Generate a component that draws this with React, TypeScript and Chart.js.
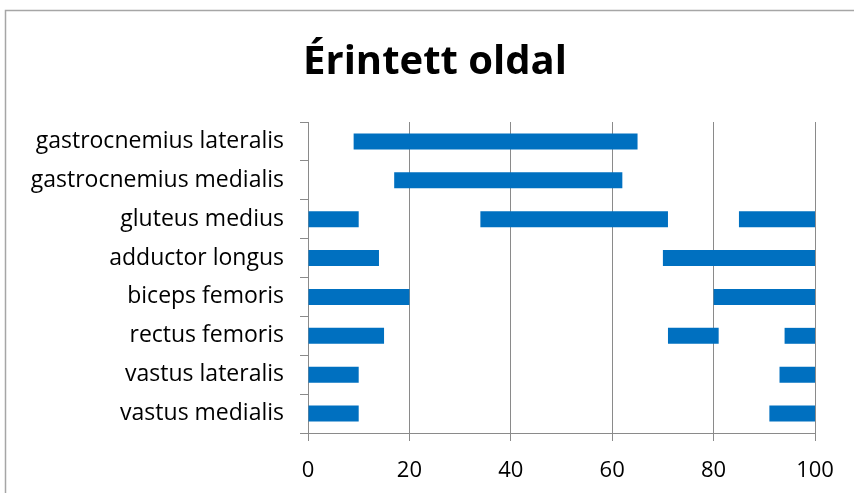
import React, { useEffect, useRef } from "react";
import { Chart, registerables } from "chart.js";

Chart.register(...registerables);

const TITLE = "Érintett oldal";
const categories = [
  "gastrocnemius lateralis",
  "gastrocnemius medialis",
  "gluteus medius",
  "adductor longus",
  "biceps femoris",
  "rectus femoris",
  "vastus lateralis",
  "vastus medialis",
];
const segment1: ([number, number] | null)[] = [
  [9, 65], [17, 62], [0, 10], [0, 14], [0, 20], [0, 15], [0, 10], [0, 10],
];
const segment2: ([number, number] | null)[] = [
  null, null, [34, 71], [70, 100], [80, 100], [71, 81], [93, 100], [91, 100],
];
const segment3: ([number, number] | null)[] = [
  null, null, [85, 100], null, null, [94, 100], null, null,
];
const xTicks = [0, 20, 40, 60, 80, 100];

const FONT = "'Open Sans', Lato, sans-serif";
const BLUE = "#0070C0";
const GRID = "#8a8a8a";

export default function App() {
  const ref = useRef<HTMLCanvasElement | null>(null);
  useEffect(() => {
    document.body.style.margin = "0";
    const frame = {
      id: "frame",
      beforeDraw(chart: any) {
        const c = chart.ctx;
        c.save();
        c.fillStyle = "#fff";
        c.fillRect(0, 0, chart.width, chart.height);
        c.strokeStyle = "#a6a6a6";
        c.lineWidth = 1.5;
        c.beginPath();
        c.moveTo(5.5, chart.height);
        c.lineTo(5.5, 10.5);
        c.lineTo(chart.width, 10.5);
        c.stroke();
        c.restore();
      },
      afterDraw(chart: any) {
        const c = chart.ctx;
        c.save();
        c.fillStyle = "#000";
        c.font = `bold 40px ${FONT}`;
        c.textAlign = "center";
        c.textBaseline = "middle";
        c.fillText(TITLE, 435, 63);
        c.restore();
      },
    };
    const mk = (label: string, data: any[]) => ({
      label,
      data,
      backgroundColor: BLUE,
      borderWidth: 0,
      grouped: false,
      barPercentage: 0.41,
      categoryPercentage: 1,
    });
    const chart = new Chart(ref.current!, {
      type: "bar",
      data: {
        labels: categories,
        datasets: [
          mk("segment 1", segment1),
          mk("segment 2", segment2),
          mk("segment 3", segment3),
        ],
      },
      options: {
        indexAxis: "y",
        animation: false,
        responsive: false,
        layout: { padding: { top: 122, right: 39, left: 0, bottom: 0 } },
        plugins: { legend: { display: false }, tooltip: { enabled: false }, title: { display: false } },
        scales: {
          x: {
            type: "linear",
            min: 0,
            max: 100,
            afterBuildTicks: (s: any) => {
              s.ticks = xTicks.map((v) => ({ value: v }));
            },
            afterFit: (s: any) => {
              s.height = 60;
            },
            grid: { color: GRID, lineWidth: 1, tickLength: 8, drawTicks: true },
            border: { display: true, color: GRID, width: 1 },
            ticks: {
              color: "#000",
              font: { family: FONT, size: 22 },
              padding: 17,
            },
          },
          y: {
            type: "category",
            offset: true,
            afterFit: (s: any) => {
              s.width = 308;
            },
            grid: { display: true, drawOnChartArea: false, offset: true, color: GRID, tickLength: 8 },
            border: { display: true, color: GRID, width: 1 },
            ticks: {
              color: "#000",
              font: { family: FONT, size: 23 },
              padding: 16,
            },
          },
        },
      },
      plugins: [frame],
    } as any);
    return () => chart.destroy();
  }, []);
  return (
    <div style={{ position: "absolute", left: 0, top: 0, width: 854, height: 493 }}>
      <canvas ref={ref} width={854} height={493} />
    </div>
  );
}
